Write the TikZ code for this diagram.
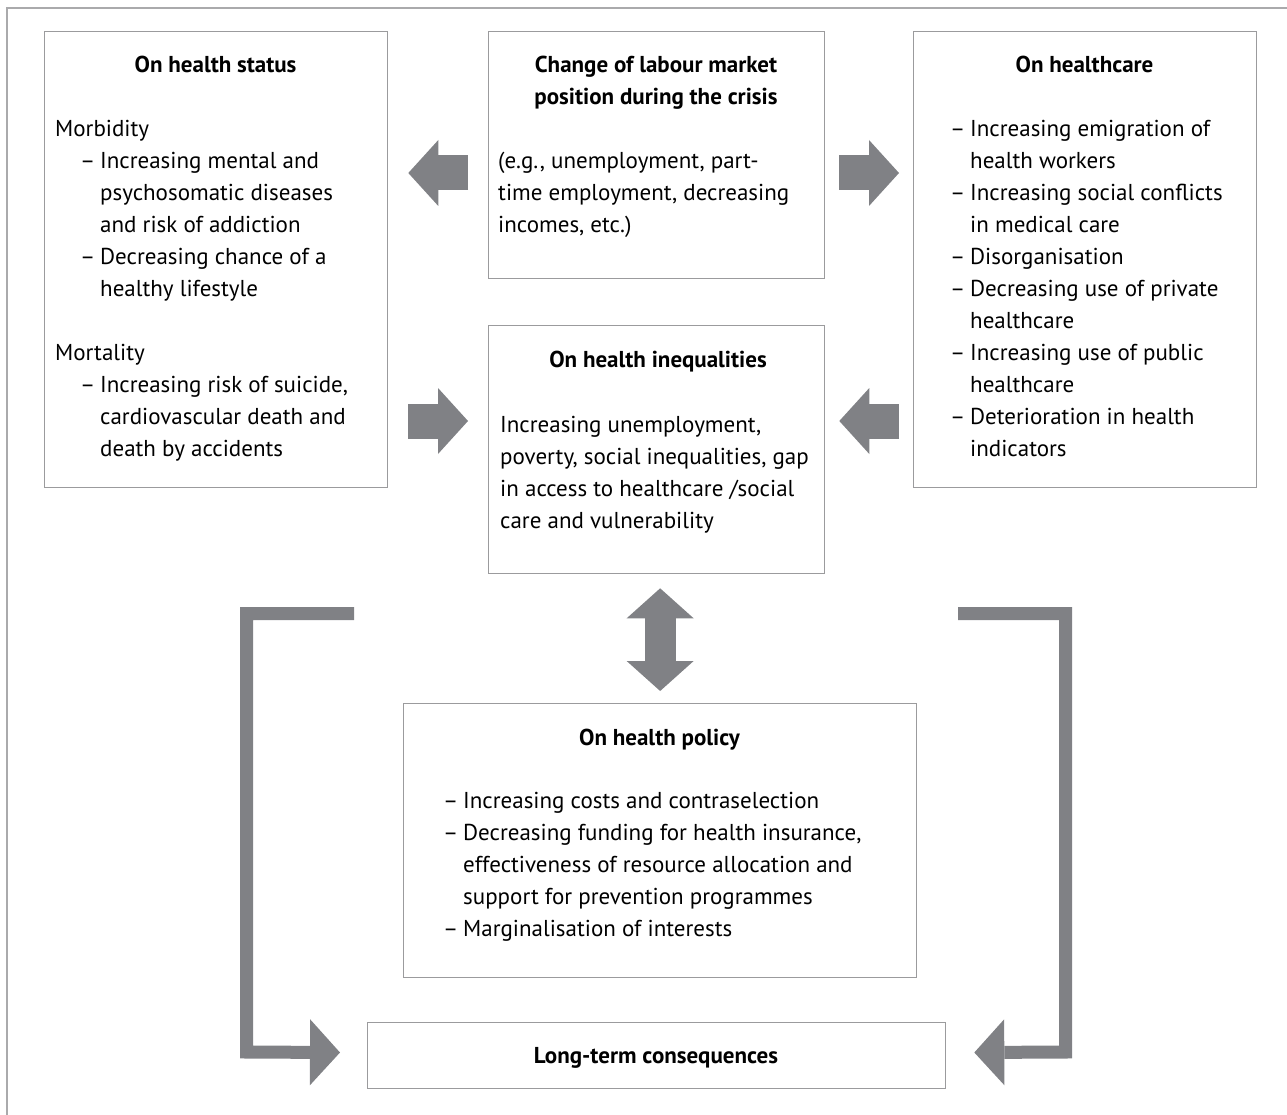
\documentclass[tikz,border=0pt]{standalone}
\usepackage{fontspec}
\setmainfont{PT Sans}
\usetikzlibrary{arrows.meta,calc}

\definecolor{arrowgray}{RGB}{128,129,133}
\definecolor{boxgray}{RGB}{155,155,157}
\definecolor{framegray}{RGB}{170,170,172}

\newcommand{\bodyfont}{\fontsize{23}{32}\selectfont}
\newcommand{\dd}{\makebox[20pt][l]{–}}
\newcommand{\cont}{\hspace*{20pt}}
\newcommand{\sub}{\hspace*{25pt}}

\tikzset{
  box/.style={draw=boxgray, line width=1.3pt, anchor=north west, inner sep=0pt},
  txt/.style={inner sep=0pt, align=left, anchor=north west, font=\bodyfont,
    execute at begin node={\strut}},
  ttl/.style={inner sep=0pt, align=center, anchor=north, font=\bodyfont\bfseries,
    execute at begin node={\strut}},
  fat/.style={draw=arrowgray, line width=35pt,
    -{Triangle[length=30pt,width=66pt,line width=0pt]}},
  bracket/.style={draw=arrowgray, line width=13pt,
    -{Triangle[length=30pt,width=66pt,line width=0pt]}}
}

\begin{document}
\begin{tikzpicture}[x=1pt,y=-1pt]
    \useasboundingbox (0,0) rectangle (1287,1115);

    % Outer frame
    \draw[framegray, line width=1.5pt] (7,1115) -- (7,8) -- (1287,8);

    % Boxes
    \node[box, minimum width=343pt, minimum height=456pt] (status) at (44,31) {};
    \node[box, minimum width=336pt, minimum height=247pt] (change) at (488,31) {};
    \node[box, minimum width=343pt, minimum height=456pt] (care) at (913,31) {};
    \node[box, minimum width=336pt, minimum height=248pt] (ineq) at (488,325) {};
    \node[box, minimum width=513pt, minimum height=274pt] (policy) at (403,703) {};
    \node[box, minimum width=578pt, minimum height=66pt] (long) at (367,1022) {};

    % On health status
    \node[ttl] (statusT) at (215.5,49.6) {On health status};
    \node[txt] (statusB) at (55,120.2) {Morbidity\\
      \sub\dd Increasing mental and\\
      \sub\cont psychosomatic diseases\\
      \sub\cont and risk of addiction\\
      \sub\dd Decreasing chance of a\\
      \sub\cont healthy lifestyle\\[32pt]
      Mortality\\
      \sub\dd Increasing risk of suicide,\\
      \sub\cont cardiovascular death and\\
      \sub\cont death by accidents};

    % Change of labour market position
    \node[ttl] (changeT) at (656,55.6) {Change of labour market\\ position during the crisis};
    \node[txt] (changeB) at (498,152.2) {(e.g., unemployment, part-\\
      time employment, decreasing\\
      incomes, etc.)};

    % On healthcare
    \node[ttl] (careT) at (1084.5,49.6) {On healthcare};
    \node[txt] (careB) at (950,120.2) {\dd Increasing emigration of\\
      \cont health workers\\
      \dd Increasing social conflicts\\
      \cont in medical care\\
      \dd Disorganisation\\
      \dd Decreasing use of private\\
      \cont healthcare\\
      \dd Increasing use of public\\
      \cont healthcare\\
      \dd Deterioration in health\\
      \cont indicators};

    % On health inequalities
    \node[ttl] (ineqT) at (658,344.6) {On health inequalities};
    \node[txt] (ineqB) at (500,415.6) {Increasing unemployment,\\
      poverty, social inequalities, gap\\
      in access to healthcare /social\\
      care and vulnerability};

    % On health policy
    \node[ttl] (policyT) at (659.5,722.6) {On health policy};
    \node[txt] (policyB) at (443,791.6) {\dd Increasing costs and contraselection\\
      \dd Decreasing funding for health insurance,\\
      \cont effectiveness of resource allocation and\\
      \cont support for prevention programmes\\
      \dd Marginalisation of interests};

    % Long-term consequences
    \node[ttl] (longT) at (656,1040.6) {Long-term consequences};

    % Fat arrows between boxes
    \draw[fat, shorten <=20pt, shorten >=20pt]
      ([yshift=-142pt]change.north west) -- ([yshift=-142pt]change.north west -| status.east);
    \draw[fat, shorten <=14pt, shorten >=14pt]
      ([yshift=-142pt]change.north east) -- ([yshift=-142pt]change.north east -| care.west);
    \draw[fat, shorten <=20pt, shorten >=20pt]
      ([yshift=-96pt]ineq.north west -| status.east) -- ([yshift=-96pt]ineq.north west);
    \draw[fat, shorten <=14pt, shorten >=14pt]
      ([yshift=-96pt]ineq.north east -| care.west) -- ([yshift=-96pt]ineq.north east);

    % Double arrow
    \draw[draw=arrowgray, line width=31pt,
      {Triangle[length=30pt,width=67pt,line width=0pt]}-{Triangle[length=30pt,width=67pt,line width=0pt]},
      shorten <=14pt, shorten >=12pt]
      (ineq.south -| policy.north) -- (policy.north);

    % Brackets to long-term consequences
    \coordinate (lstart) at (354,613.5);
    \coordinate (rstart) at (958,613.5);
    \draw[bracket, shorten >=27pt]
      (lstart) -| (246.5,1052) -- ([yshift=3pt]long.west);
    \draw[bracket, shorten >=28pt]
      (rstart) -| (1065.5,1052) -- ([yshift=3pt]long.east);
\end{tikzpicture}
\end{document}
